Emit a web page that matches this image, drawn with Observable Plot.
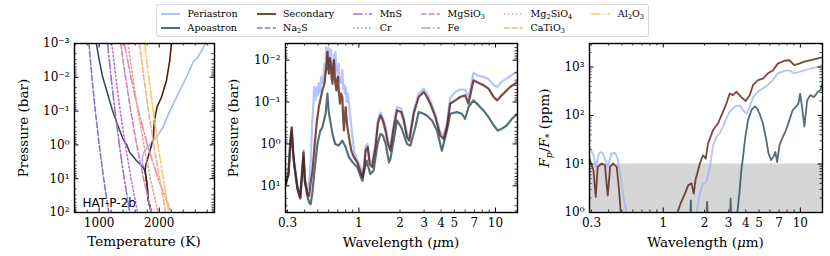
<!DOCTYPE html>
<html><head><meta charset="utf-8">
<script src="https://cdn.jsdelivr.net/npm/d3@7"></script>
<script src="https://cdn.jsdelivr.net/npm/@observablehq/plot@0.6"></script>
<style>
html,body{margin:0;padding:0;background:#fff;}
#wrap{position:relative;width:830px;height:256px;overflow:hidden;font-family:"DejaVu Serif",serif;color:#000;}
#wrap svg text{font-family:"DejaVu Serif",serif;}
#wrap svg g[font-family="DejaVu Sans"] text{font-family:"DejaVu Sans",sans-serif;}
.panel{position:absolute;top:0;}
.lbl{position:absolute;font-size:13.5px;white-space:nowrap;transform:translate(-50%,-50%);line-height:1;}
.rot{transform:translate(-50%,-50%) rotate(-90deg);}
#legend{position:absolute;left:156px;top:4px;height:33px;box-sizing:border-box;border:1px solid #d6d6d6;border-radius:3px;background:rgba(255,255,255,0.9);z-index:5;display:flex;gap:19px;padding:0 4px 0 4px;font-size:9.5px;align-items:center;}
.lcol{display:flex;flex-direction:column;gap:3px;}
.litem{display:flex;align-items:center;height:11px;white-space:nowrap;line-height:1;}
.litem svg{margin-right:7.6px;flex:none;}
sub{font-size:0.7em;vertical-align:-0.3em;line-height:0;}
</style></head><body><div id="wrap"></div>
<script>
// ================= DATA =================
// Panel 1: temperature-pressure profiles [T (K), P (bar)]
const periProfile = [[2770,1e-3],[2647,2.5e-3],[2563,3.6e-3],[2453,1e-2],[2287,3.9e-2],[2175,0.1],[2063,0.3],[1953,0.59],[1842,1.0],[1758,1.48],[1720,2.34],[1722,3.6],[1755,5.5],[1772,7.2],[1800,16],[1813,40],[1870,100]];
const apoProfile = [[953,1e-3],[1000,3e-3],[1060,1e-2],[1140,3e-2],[1225,0.1],[1313,0.27],[1397,0.66],[1460,1.0],[1508,1.66],[1620,2.9],[1730,4.6],[1755,5.5],[1772,7.2],[1800,16],[1813,40],[1870,100]];
const secProfile = [[2203,1e-3],[2175,3.2e-3],[2120,1.26e-2],[2037,3.9e-2],[1963,7.6e-2],[1925,0.17],[1910,0.32],[1905,0.6],[1870,1.05],[1825,2.0],[1775,4.1],[1765,5.5],[1772,7.2],[1800,16],[1813,40],[1870,100]];

// Condensation curves: temperature (K) at each pressure level
const condPressure = [1e-3, 1e-2, 1e-1, 1, 10, 100];
const condNames = ["Na2S","MnS","Cr","MgSiO3","Fe","Mg2SiO4","CaTiO3","Al2O3"];
const condNa2S    = [830, 880, 937, 1001, 1075, 1160];
const condMnS     = [1140, 1199, 1264, 1337, 1418, 1510];
const condCr      = [1210, 1277, 1352, 1436, 1531, 1640];
const condMgSiO3  = [1360, 1439, 1527, 1626, 1739, 1870];
const condFe      = [1420, 1528, 1655, 1803, 1982, 2200];
const condMg2SiO4 = [1480, 1559, 1646, 1744, 1854, 1980];
const condCaTiO3  = [1670, 1743, 1822, 1909, 2005, 2110];
const condAl2O3   = [1760, 1828, 1901, 1980, 2066, 2160];

// Panel 2: photospheric pressure, [wavelength (um), log10 P (bar)]
const periPhoto = [[0.29,0.96],[0.305,0.7],[0.315,-0.1],[0.322,-0.4],[0.33,0.2],[0.336,0.45],[0.345,0.75],[0.355,1.0],[0.372,1.2],[0.385,0.55],[0.393,0.15],[0.402,0.8],[0.42,1.1],[0.432,0.9],[0.444,0.4],[0.455,-0.5],[0.465,-1.0],[0.47,-1.36],[0.48,-1.05],[0.49,-1.35],[0.5,-1.15],[0.51,-1.45],[0.52,-1.25],[0.53,-1.6],[0.545,-1.45],[0.56,-1.92],[0.567,-1.7],[0.575,-2.3],[0.582,-1.9],[0.588,-2.16],[0.594,-1.95],[0.6,-2.3],[0.606,-1.85],[0.612,-2.0],[0.618,-1.8],[0.625,-2.25],[0.632,-1.8],[0.64,-1.9],[0.648,-1.7],[0.657,-2.12],[0.665,-1.8],[0.675,-2.2],[0.682,-1.75],[0.69,-1.85],[0.7,-1.6],[0.71,-1.92],[0.72,-1.5],[0.73,-1.6],[0.742,-1.45],[0.756,-1.76],[0.768,-1.3],[0.78,-1.4],[0.79,-1.2],[0.8,-1.36],[0.815,-1.0],[0.83,-1.2],[0.846,-0.96],[0.87,-0.56],[0.92,0.16],[0.973,0.4],[1.03,0.56],[1.06,0.72],[1.09,0.5],[1.12,0.05],[1.16,0.0],[1.2,0.4],[1.25,0.45],[1.32,0.0],[1.38,-0.6],[1.44,-0.75],[1.5,-0.62],[1.57,-0.4],[1.63,-0.1],[1.7,0.08],[1.78,-0.4],[1.9,-0.88],[2.04,-0.84],[2.13,-0.64],[2.25,-0.24],[2.34,-0.16],[2.52,-0.8],[2.74,-1.2],[2.98,-1.32],[3.15,-1.2],[3.33,-1.04],[3.63,-0.72],[3.94,-0.28],[4.17,-0.2],[4.41,-0.5],[4.66,-1.1],[5.08,-1.24],[5.52,-1.3],[6.0,-1.3],[6.35,-1.1],[6.9,-1.7],[7.3,-1.64],[8.17,-1.6],[8.9,-1.55],[9.7,-1.4],[10.3,-1.36],[11.1,-1.48],[12.8,-1.62],[14.5,-1.74]];
const apoPhoto = [[0.29,0.96],[0.305,0.75],[0.315,0.0],[0.322,-0.3],[0.33,0.25],[0.336,0.5],[0.345,0.8],[0.355,1.1],[0.372,1.3],[0.385,0.7],[0.393,0.3],[0.402,0.9],[0.42,1.25],[0.432,1.4],[0.443,1.44],[0.455,1.2],[0.47,0.72],[0.497,0.0],[0.52,-0.3],[0.54,-0.4],[0.57,-0.72],[0.588,-1.2],[0.6,-0.8],[0.61,-0.64],[0.64,-0.24],[0.67,0.0],[0.71,0.04],[0.756,-0.08],[0.8,0.08],[0.846,0.32],[0.9,0.44],[0.973,0.56],[1.06,0.88],[1.1,0.6],[1.14,0.4],[1.21,0.72],[1.28,0.64],[1.37,0.0],[1.44,-0.24],[1.5,-0.2],[1.57,0.0],[1.66,0.44],[1.7,0.36],[1.8,-0.1],[1.9,-0.56],[2.04,-0.4],[2.25,0.0],[2.38,0.04],[2.59,-0.4],[2.74,-0.76],[2.98,-0.72],[3.15,-0.68],[3.43,-0.56],[3.73,-0.32],[4.05,0.16],[4.41,-0.32],[4.66,-0.72],[5.22,-0.76],[5.68,-0.72],[6.0,-0.6],[6.35,-0.88],[6.9,-1.04],[7.53,-0.92],[8.17,-0.8],[8.9,-0.64],[9.7,-0.44],[10.4,-0.32],[11.1,-0.36],[12.1,-0.44],[13.2,-0.6],[14.5,-0.72]];
const secPhoto = [[0.29,0.96],[0.305,0.7],[0.315,-0.1],[0.322,-0.39],[0.33,0.2],[0.336,0.48],[0.345,0.75],[0.355,1.04],[0.372,1.28],[0.385,0.6],[0.393,0.2],[0.402,0.88],[0.42,1.2],[0.432,1.24],[0.444,0.9],[0.457,0.64],[0.475,0.0],[0.49,-0.48],[0.51,-0.9],[0.54,-1.28],[0.56,-1.45],[0.57,-1.68],[0.58,-1.9],[0.588,-2.2],[0.596,-1.8],[0.604,-1.68],[0.612,-2.05],[0.621,-1.92],[0.63,-1.6],[0.64,-1.44],[0.648,-1.85],[0.657,-2.0],[0.668,-1.5],[0.684,-1.28],[0.693,-1.55],[0.703,-1.6],[0.715,-1.2],[0.727,-0.96],[0.74,-1.2],[0.756,-1.12],[0.767,-0.6],[0.777,-0.32],[0.79,-0.7],[0.8,-0.88],[0.82,-0.45],[0.846,-0.16],[0.88,0.16],[0.92,0.32],[0.973,0.44],[1.03,0.68],[1.06,0.8],[1.09,0.6],[1.12,0.16],[1.16,0.08],[1.2,0.48],[1.25,0.55],[1.32,0.1],[1.38,-0.5],[1.44,-0.68],[1.5,-0.55],[1.57,-0.3],[1.63,0.0],[1.7,0.16],[1.78,-0.3],[1.9,-0.8],[2.04,-0.76],[2.13,-0.56],[2.25,-0.16],[2.34,-0.08],[2.52,-0.72],[2.74,-1.12],[2.98,-1.24],[3.15,-1.12],[3.33,-0.96],[3.63,-0.64],[3.94,-0.2],[4.17,-0.12],[4.41,-0.4],[4.66,-0.96],[5.08,-1.04],[5.52,-1.12],[6.0,-1.16],[6.35,-0.96],[6.9,-1.52],[7.3,-1.48],[8.17,-1.4],[8.9,-1.32],[9.7,-1.12],[10.3,-1.04],[11.1,-1.16],[12.8,-1.36],[14.5,-1.48]];

// Panel 3: planet-to-star flux ratio, [wavelength (um), log10 Fp/F* (ppm)]
const periFlux = [[0.29,1.35],[0.31,1.18],[0.322,0.94],[0.34,1.22],[0.356,1.25],[0.376,1.11],[0.394,0.94],[0.42,1.22],[0.445,1.23],[0.466,1.11],[0.49,0.74],[0.512,0.32],[0.54,0.0],[0.6,-1.5],[1.6,-2],[1.75,0.0],[1.85,0.39],[1.95,0.6],[2.06,0.63],[2.19,0.94],[2.31,1.39],[2.45,1.56],[2.58,1.63],[2.73,1.77],[2.89,1.94],[3.05,2.08],[3.32,2.18],[3.61,2.21],[3.82,2.11],[4.04,2.04],[4.27,2.18],[4.52,2.38],[4.91,2.49],[5.33,2.56],[5.8,2.63],[6.3,2.73],[6.84,2.87],[7.65,2.92],[8.3,2.93],[9.03,2.87],[9.8,2.9],[10.7,2.93],[11.96,2.97],[13.4,3.0],[14.5,3.04]];
const apoFlux = [[0.29,-2],[1.5,-2],[1.56,-0.5],[1.59,0.25],[1.62,-0.5],[2.05,-0.5],[2.09,0.22],[2.13,-0.5],[3.05,-0.5],[3.1,0.29],[3.16,-0.5],[3.4,-0.8],[3.47,0.0],[3.61,0.46],[3.71,0.87],[3.82,1.15],[3.97,1.56],[4.15,1.9],[4.39,2.11],[4.65,2.19],[4.84,2.14],[5.04,2.04],[5.33,1.84],[5.65,1.49],[5.86,1.22],[6.13,1.08],[6.36,1.15],[6.57,1.25],[6.77,1.04],[7.05,1.39],[7.45,1.56],[7.86,1.7],[8.3,1.9],[8.78,2.11],[9.27,2.18],[9.69,2.25],[9.96,2.45],[10.35,2.11],[10.7,1.77],[11.2,2.31],[11.8,2.42],[12.6,2.38],[13.4,2.49],[14.0,2.52],[14.5,2.66]];
const secFlux = [[0.29,1.11],[0.31,0.87],[0.322,0.32],[0.333,0.94],[0.356,1.01],[0.376,0.98],[0.386,0.6],[0.394,0.35],[0.41,0.94],[0.43,1.01],[0.458,0.94],[0.475,0.5],[0.49,0.0],[0.52,-0.8],[0.6,-2],[1.2,-2],[1.27,0.0],[1.34,0.19],[1.44,0.39],[1.52,0.56],[1.61,0.6],[1.67,0.39],[1.72,0.67],[1.85,1.01],[1.95,1.18],[2.04,1.11],[2.12,1.42],[2.31,1.7],[2.51,1.84],[2.73,2.08],[2.89,2.25],[3.05,2.45],[3.23,2.42],[3.41,2.49],[3.71,2.38],[3.99,2.3],[4.27,2.42],[4.52,2.63],[4.91,2.73],[5.33,2.76],[5.8,2.87],[6.3,2.93],[6.84,3.07],[7.65,3.13],[8.3,3.14],[9.03,3.04],[9.8,3.07],[10.7,3.11],[11.96,3.14],[13.4,3.18],[14.5,3.2]];
const shadedBand = [{lo: 1, hi: 10}];

// Axes domains and tick labels
const tempDomain = [590, 2920];
const tempTickLabels = [1000, 2000];
const pDomain1 = [1e-3, 1e2];
const pDomain2 = [0.004, 43.4];
const wlDomain = [0.29, 14.5];
const wlTickLabels = [0.3, 1, 2, 3, 4, 5, 7, 10];
const fluxDomain = [1, 3055];

// Legend labels (column-major, as in the reference)
const legendLabels = ["Periastron","Apoastron","Secondary","Na<sub>2</sub>S","MnS","Cr","MgSiO<sub>3</sub>","Fe","Mg<sub>2</sub>SiO<sub>4</sub>","CaTiO<sub>3</sub>","Al<sub>2</sub>O<sub>3</sub>"];

// ================= STYLES =================
const periColor = "#a0b3f8", apoColor = "#284856", secColor = "#521e0e";
const DASH = "5.5,2.4", DASHDOT = "9.6,2.4,1.5,2.4", DOT = "1.5,2.5";
const condStyle = [
  ["#7f78cc", DASH], ["#a46ed6", DASHDOT], ["#bf72dc", DOT], ["#d47fc2", DASH],
  ["#e38cae", DASHDOT], ["#ef9d98", DOT], ["#f6b27e", DASH], ["#f7ca6a", DASHDOT]
];
const condTemps = [condNa2S, condMnS, condCr, condMgSiO3, condFe, condMg2SiO4, condCaTiO3, condAl2O3];
const FONT = "DejaVu Serif";

// ================= HELPERS =================
const SUP = {"-":"\u207B","0":"\u2070","1":"\u00B9","2":"\u00B2","3":"\u00B3","4":"\u2074","5":"\u2075","6":"\u2076","7":"\u2077","8":"\u2078","9":"\u2079"};
const pow10 = d => "10" + String(Math.round(Math.log10(d))).split("").map(c => SUP[c]).join("");
const isDecade = d => Math.abs(Math.log10(d) - Math.round(Math.log10(d))) < 1e-9;
const inDom = (dom) => d => d >= Math.min(...dom) * 0.9999 && d <= Math.max(...dom) * 1.0001;

function logTicks(dom) {
  const all = d3.scaleLog().domain(dom).ticks().filter(inDom(dom));
  return {maj: all.filter(isDecade), min: all.filter(d => !isDecade(d))};
}
function boxTicks(xMaj, xMin, yMaj, yMin, W, H) {
  const M = 4.5, m = 2.5, out = [];
  for (const [arr, len, sw] of [[xMaj, M, 1], [xMin, m, 0.8]]) {
    out.push(Plot.tickX(arr, {x: d => d, insetTop: H - len, strokeWidth: sw}));
    out.push(Plot.tickX(arr, {x: d => d, insetBottom: H - len, strokeWidth: sw}));
  }
  for (const [arr, len, sw] of [[yMaj, M, 1], [yMin, m, 0.8]]) {
    out.push(Plot.tickY(arr, {y: d => d, insetRight: W - len, strokeWidth: sw}));
    out.push(Plot.tickY(arr, {y: d => d, insetLeft: W - len, strokeWidth: sw}));
  }
  return out;
}
function xLabels(vals, fmt) {
  return Plot.text(vals, {x: d => d, text: fmt, frameAnchor: "bottom", lineAnchor: "top", dy: 6, fontFamily: FONT, fontSize: 12});
}
function yLabels(vals, fmt) {
  return Plot.text(vals, {y: d => d, text: fmt, frameAnchor: "left", textAnchor: "end", dx: -5, fontFamily: FONT, fontSize: 12});
}
const svgStyle = "font-family:'DejaVu Serif',serif;font-size:12px;background:transparent;overflow:visible;";
const wrap = document.getElementById("wrap");
function place(el, left) {
  const d = document.createElement("div");
  d.className = "panel"; d.style.left = left + "px";
  d.append(el); wrap.append(d);
}
function addLabel(html, cx, cy, rot) {
  const d = document.createElement("div");
  d.className = "lbl" + (rot ? " rot" : "");
  d.style.left = cx + "px"; d.style.top = cy + "px";
  d.innerHTML = html; wrap.append(d);
}

// ================= PANEL 1 =================
{
  const W = 240, H = 256, mL = 74, mR = 26, mT = 43, mB = 44;
  const pw = W - mL - mR, ph = H - mT - mB;
  const xAll = d3.ticks(tempDomain[0], tempDomain[1], 12).filter(inDom(tempDomain));
  const xMaj = xAll.filter(d => tempTickLabels.includes(d));
  const xMin = xAll.filter(d => !tempTickLabels.includes(d));
  const yt = logTicks(pDomain1);
  const condMarks = condTemps.map((temps, i) => Plot.line(condPressure.map((p, k) => [temps[k], p]), {
    x: d => d[0], y: d => d[1], stroke: condStyle[i][0], strokeDasharray: condStyle[i][1], strokeWidth: 1.6, clip: true
  }));
  const svg = Plot.plot({
    width: W, height: H, marginLeft: mL, marginRight: mR, marginTop: mT, marginBottom: mB,
    style: svgStyle,
    x: {type: "linear", domain: tempDomain, axis: null},
    y: {type: "log", domain: pDomain1, reverse: true, axis: null},
    marks: [
      Plot.line(periProfile, {x: d => d[0], y: d => d[1], stroke: periColor, strokeWidth: 1.5, clip: true}),
      Plot.line(apoProfile, {x: d => d[0], y: d => d[1], stroke: apoColor, strokeWidth: 1.5, clip: true}),
      Plot.line(secProfile, {x: d => d[0], y: d => d[1], stroke: secColor, strokeWidth: 1.6, clip: true}),
      ...condMarks,
      Plot.text(["HAT-P-2b"], {text: d => d, frameAnchor: "bottom-left", textAnchor: "start", lineAnchor: "bottom", dx: 8, dy: -6, fontFamily: "DejaVu Sans", fontSize: 12}),
      ...boxTicks(xMaj, xMin, yt.maj, yt.min, pw, ph),
      Plot.frame({strokeWidth: 1.4}),
      xLabels(tempTickLabels, d => String(d)),
      yLabels(yt.maj, pow10)
    ]
  });
  place(svg, 0);
  addLabel("Temperature (K)", 144, 242);
  addLabel("Pressure (bar)", 24, 128, true);
}

// ================= PANEL 2 =================
{
  const W = 290, H = 256, mL = 45, mR = 13, mT = 43, mB = 44;
  const pw = W - mL - mR, ph = H - mT - mB;
  const xt = logTicks(wlDomain);
  const yt = logTicks(pDomain2);
  const lineOpts = (c, w) => ({x: d => d[0], y: d => 10 ** d[1], stroke: c, strokeWidth: w, strokeOpacity: 0.78, clip: true, strokeLinejoin: "round"});
  const svg = Plot.plot({
    width: W, height: H, marginLeft: mL, marginRight: mR, marginTop: mT, marginBottom: mB,
    style: svgStyle,
    x: {type: "log", domain: wlDomain, axis: null},
    y: {type: "log", domain: pDomain2, reverse: true, axis: null},
    marks: [
      Plot.line(periPhoto, lineOpts(periColor, 2.2)),
      Plot.line(apoPhoto, lineOpts(apoColor, 2.2)),
      Plot.line(secPhoto, lineOpts(secColor, 2.2)),
      ...boxTicks(xt.maj, xt.min, yt.maj, yt.min, pw, ph),
      Plot.frame({strokeWidth: 1.4}),
      xLabels(wlTickLabels, d => String(d)),
      yLabels(yt.maj, pow10)
    ]
  });
  place(svg, 240);
  addLabel("Wavelength (<i>\u03BC</i>m)", 401, 243);
  addLabel("Pressure (bar)", 234, 128, true);
}

// ================= PANEL 3 =================
{
  const W = 300, H = 256, mL = 59, mR = 8, mT = 43, mB = 44;
  const pw = W - mL - mR, ph = H - mT - mB;
  const xt = logTicks(wlDomain);
  const yt = logTicks(fluxDomain);
  const lineOpts = (c, w) => ({x: d => d[0], y: d => 10 ** d[1], stroke: c, strokeWidth: w, strokeOpacity: 0.8, clip: true, strokeLinejoin: "round"});
  const svg = Plot.plot({
    width: W, height: H, marginLeft: mL, marginRight: mR, marginTop: mT, marginBottom: mB,
    style: svgStyle,
    x: {type: "log", domain: wlDomain, axis: null},
    y: {type: "log", domain: fluxDomain, axis: null},
    marks: [
      Plot.rect(shadedBand, {y1: "lo", y2: "hi", fill: "#d6d6d6"}),
      Plot.line(periFlux, lineOpts(periColor, 1.8)),
      Plot.line(apoFlux, lineOpts(apoColor, 1.8)),
      Plot.line(secFlux, lineOpts(secColor, 1.8)),
      ...boxTicks(xt.maj, xt.min, yt.maj, yt.min, pw, ph),
      Plot.frame({strokeWidth: 1.4}),
      xLabels(wlTickLabels, d => String(d)),
      yLabels(yt.maj, pow10)
    ]
  });
  place(svg, 530);
  addLabel("Wavelength (<i>\u03BC</i>m)", 705.5, 243);
  addLabel("<i>F</i><sub><i>p</i></sub>/<i>F</i><sub>*</sub> (ppm)", 545, 128, true);
}

// ================= LEGEND =================
{
  const box = document.createElement("div");
  box.id = "legend"; wrap.append(box);
  const styles = [[periColor, null], [apoColor, null], [secColor, null], ...condStyle];
  let col = null;
  legendLabels.forEach((lab, i) => {
    if (i % 2 === 0) { col = document.createElement("div"); col.className = "lcol"; box.append(col); }
    const [c, dash] = styles[i];
    const item = document.createElement("div"); item.className = "litem";
    const sw = document.createElementNS("http://www.w3.org/2000/svg", "svg");
    sw.setAttribute("width", 19); sw.setAttribute("height", 6);
    const ln = document.createElementNS("http://www.w3.org/2000/svg", "line");
    ln.setAttribute("x1", 0); ln.setAttribute("x2", 19); ln.setAttribute("y1", 3); ln.setAttribute("y2", 3);
    ln.setAttribute("stroke", c); ln.setAttribute("stroke-width", 1.6);
    if (dash) ln.setAttribute("stroke-dasharray", dash);
    sw.append(ln); item.append(sw);
    const t = document.createElement("span"); t.innerHTML = lab; item.append(t);
    col.append(item);
  });
  // single-entry last column sits on the top row
  col.style.alignSelf = "flex-start"; col.style.marginTop = "3px";
}
</script></body></html>
